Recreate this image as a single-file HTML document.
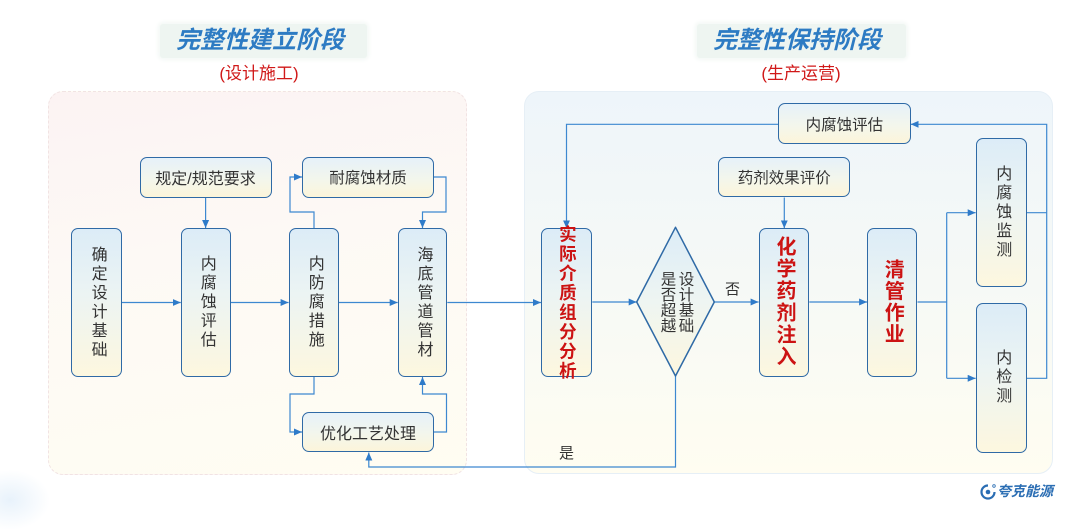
<!DOCTYPE html>
<html><head><meta charset="utf-8">
<style>
html,body{margin:0;padding:0;}
body{width:1080px;height:502px;overflow:hidden;background:#fff;position:relative;font-family:"Liberation Sans","Noto Sans CJK SC",sans-serif;}
.abs{position:absolute;box-sizing:border-box;}
.box{position:absolute;box-sizing:border-box;border:1.5px solid #2f6aa6;border-radius:7px;display:flex;align-items:center;justify-content:center;color:#333;}
.v{background:linear-gradient(180deg,#dcecf7 0%,#ecf4f3 45%,#fdf7df 100%);}
.h{background:linear-gradient(180deg,#e6f1f9 0%,#f3f6ec 55%,#fcf5da 100%);font-size:15.5px;white-space:nowrap;}
.vt{writing-mode:vertical-rl;text-orientation:upright;line-height:1;font-size:16px;letter-spacing:3px;white-space:nowrap;}
.red{color:#cc1313;font-weight:bold;}
.title{position:absolute;color:#2d7bc3;font-weight:bold;font-style:italic;font-size:24px;line-height:1;white-space:nowrap;transform:translateX(-50%);}
.sub{position:absolute;color:#d01818;font-size:17px;line-height:1;white-space:nowrap;transform:translateX(-50%);}
.lbl{position:absolute;font-size:15px;color:#333;line-height:1;}
</style></head>
<body>
<!-- bottom-left faint blob -->
<div class="abs" style="left:-30px;top:470px;width:80px;height:60px;border-radius:50%;background:radial-gradient(closest-side,#e8f2fb,rgba(255,255,255,0));"></div>

<!-- title backgrounds -->
<div class="abs" style="left:160px;top:24px;width:207px;height:34px;background:#eef5f1;border-radius:3px;box-shadow:0 0 4px 2px #f3f8f5;"></div>
<div class="abs" style="left:697px;top:24px;width:209px;height:34px;background:#eef5f1;border-radius:3px;box-shadow:0 0 4px 2px #f3f8f5;"></div>
<div class="title" style="left:260px;top:29px;">完整性建立阶段</div>
<div class="title" style="left:797px;top:29px;">完整性保持阶段</div>
<div class="sub" style="left:259px;top:65px;">(设计施工)</div>
<div class="sub" style="left:801px;top:65px;">(生产运营)</div>

<!-- panels -->
<div class="abs" style="left:48px;top:91px;width:419px;height:384px;border-radius:15px;border:1px dashed #f1e3e3;background:linear-gradient(170deg,#fcf3f3 0%,#fdf9f5 40%,#fffdf2 100%);"></div>
<div class="abs" style="left:524px;top:91px;width:529px;height:383px;border-radius:15px;border:1px solid #e6eff6;background:linear-gradient(180deg,#eef5fa 0%,#f6f9f6 50%,#fffdf1 100%);"></div>

<svg class="abs" style="left:0;top:0;" width="1080" height="502" viewBox="0 0 1080 502">
<defs>
<marker id="a" markerUnits="userSpaceOnUse" markerWidth="8" markerHeight="7" refX="8" refY="3.5" orient="auto">
<path d="M0,0 L8,3.5 L0,7 z" fill="#2f7bc9"/>
</marker>
<linearGradient id="dg" x1="0" y1="0" x2="0" y2="1">
<stop offset="0" stop-color="#dcecf7"/><stop offset="0.5" stop-color="#eef5f2"/><stop offset="1" stop-color="#fdf7df"/>
</linearGradient>
</defs>
<g fill="none" stroke="#3d88d0" stroke-width="1.2">
<polyline points="205.6,197.5 205.6,228" marker-end="url(#a)"/>
<polyline points="122,302.5 180.8,302.5" marker-end="url(#a)"/>
<polyline points="230.7,302.5 288.6,302.5" marker-end="url(#a)"/>
<polyline points="338.8,302.5 397.7,302.5" marker-end="url(#a)"/>
<polyline points="447.3,302.5 541,302.5" marker-end="url(#a)"/>
<polyline points="314,228 314,212 290,212 290,177 302,177" marker-end="url(#a)"/>
<polyline points="434,177 446,177 446,212 422.5,212 422.5,228" marker-end="url(#a)"/>
<polyline points="314,377 314,394 290,394 290,432 302,432" marker-end="url(#a)"/>
<polyline points="434,432 446.5,432 446.5,394 422.5,394 422.5,377" marker-end="url(#a)"/>
<polyline points="675.5,376 675.5,467 368.8,467 368.8,452.5" marker-end="url(#a)"/>
<polyline points="592.3,302 636.7,302" marker-end="url(#a)"/>
<polyline points="714.3,302 758.6,302" marker-end="url(#a)"/>
<polyline points="809.3,302 867.1,302" marker-end="url(#a)"/>
<polyline points="917.5,302 946.7,302"/>
<polyline points="946.7,212.7 946.7,378.3"/>
<polyline points="946.7,212.7 975.7,212.7" marker-end="url(#a)"/>
<polyline points="946.7,378.3 975.7,378.3" marker-end="url(#a)"/>
<polyline points="1026.7,212.7 1046.7,212.7"/>
<polyline points="1026.7,378.3 1046.7,378.3 1046.7,124.3 910.7,124.3" marker-end="url(#a)"/>
<polyline points="778.2,124.3 566.5,124.3 566.5,228.3" marker-end="url(#a)"/>
<polyline points="784.3,197.5 784.3,228.3" marker-end="url(#a)"/>
</g>
<polygon points="675.5,227.3 714.3,302 675.5,376 636.7,302" fill="url(#dg)" stroke="#2f6aa6" stroke-width="1.5" stroke-linejoin="round"/>
</svg>

<!-- left horizontal boxes -->
<div class="box h" style="left:139.5px;top:157px;width:132px;height:40.5px;font-size:16px;">规定/规范要求</div>
<div class="box h" style="left:302px;top:157px;width:132px;height:40.5px;">耐腐蚀材质</div>
<div class="box h" style="left:302px;top:411.7px;width:132px;height:40.6px;font-size:16px;">优化工艺处理</div>

<!-- left vertical boxes -->
<div class="box v" style="left:71.3px;top:228.3px;width:50.6px;height:148.7px;"><span class="vt">确定设计基础</span></div>
<div class="box v" style="left:180.8px;top:228.3px;width:49.9px;height:148.7px;"><span class="vt">内腐蚀评估</span></div>
<div class="box v" style="left:288.6px;top:228.3px;width:50.2px;height:148.7px;"><span class="vt">内防腐措施</span></div>
<div class="box v" style="left:397.7px;top:228.3px;width:49.6px;height:148.7px;"><span class="vt">海底管道管材</span></div>

<!-- right boxes -->
<div class="box h" style="left:778.2px;top:103.3px;width:132.5px;height:41px;">内腐蚀评估</div>
<div class="box h" style="left:718.2px;top:156.7px;width:132.2px;height:40.6px;">药剂效果评价</div>

<div class="box v" style="left:541px;top:228.3px;width:51.3px;height:148.4px;overflow:visible;"><span class="vt red" style="font-size:17.5px;letter-spacing:2px;">实际介质组分分析</span></div>
<div class="box v" style="left:758.6px;top:228.3px;width:50.7px;height:148.4px;"><span class="vt red" style="font-size:20px;letter-spacing:2px;">化学药剂注入</span></div>
<div class="box v" style="left:867.1px;top:228.3px;width:50.4px;height:148.4px;"><span class="vt red" style="font-size:20px;letter-spacing:1.5px;">清管作业</span></div>
<div class="box v" style="left:975.7px;top:137.7px;width:51px;height:149px;"><span class="vt">内腐蚀监测</span></div>
<div class="box v" style="left:975.7px;top:303.3px;width:51px;height:149.4px;"><span class="vt">内检测</span></div>

<!-- diamond text -->
<div class="abs" style="left:655px;top:270px;width:41px;height:64px;display:flex;align-items:center;justify-content:center;">
<span style="writing-mode:vertical-rl;text-orientation:upright;font-size:15.5px;line-height:18px;color:#333;white-space:nowrap;">设计基础<br>是否超越</span>
</div>

<div class="lbl" style="left:725px;top:282px;">否</div>
<div class="lbl" style="left:559px;top:446px;">是</div>

<!-- logo -->
<svg class="abs" style="left:979px;top:483px;" width="18" height="18" viewBox="0 0 18 18">
<path d="M9,2.5 A6.5,6.5 0 1 0 15.5,9" fill="none" stroke="#2a6db3" stroke-width="2.2"/>
<circle cx="9" cy="9" r="2.3" fill="#2a6db3"/>
<circle cx="15" cy="3" r="1.3" fill="none" stroke="#2a6db3" stroke-width="0.8"/>
</svg>
<div class="abs" style="left:997px;top:484px;font-size:14px;line-height:1;color:#2a6db3;font-weight:bold;font-style:italic;white-space:nowrap;">夸克能源</div>
</body></html>
